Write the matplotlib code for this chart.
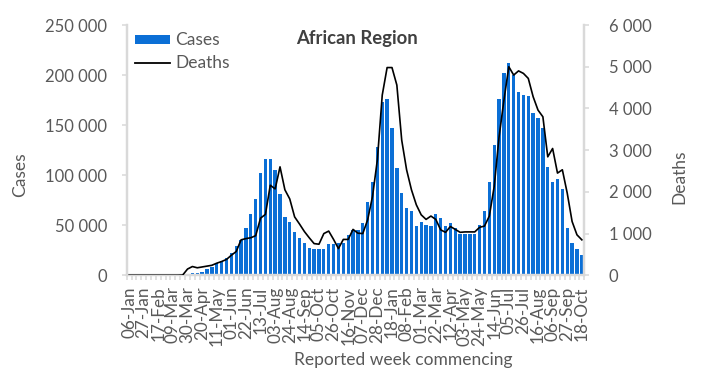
import matplotlib
matplotlib.use("Agg")
import matplotlib.pyplot as plt
from matplotlib.ticker import FuncFormatter
from matplotlib.patches import Patch
from matplotlib.lines import Line2D
import numpy as np

plt.rcParams["font.family"] = ["Lato", "DejaVu Sans"]

# -------------------- data --------------------
weeks = [
    "06-Jan", "13-Jan", "20-Jan", "27-Jan", "03-Feb", "10-Feb", "17-Feb", "24-Feb",
    "02-Mar", "09-Mar", "16-Mar", "23-Mar", "30-Mar", "06-Apr", "13-Apr", "20-Apr",
    "27-Apr", "04-May", "11-May", "18-May", "25-May", "01-Jun", "08-Jun", "15-Jun",
    "22-Jun", "29-Jun", "06-Jul", "13-Jul", "20-Jul", "27-Jul", "03-Aug", "10-Aug",
    "17-Aug", "24-Aug", "31-Aug", "07-Sep", "14-Sep", "21-Sep", "28-Sep", "05-Oct",
    "12-Oct", "19-Oct", "26-Oct", "02-Nov", "09-Nov", "16-Nov", "23-Nov", "30-Nov",
    "07-Dec", "14-Dec", "21-Dec", "28-Dec", "04-Jan", "11-Jan", "18-Jan", "25-Jan",
    "01-Feb", "08-Feb", "15-Feb", "22-Feb", "01-Mar", "08-Mar", "15-Mar", "22-Mar",
    "29-Mar", "05-Apr", "12-Apr", "19-Apr", "26-Apr", "03-May", "10-May", "17-May",
    "24-May", "31-May", "07-Jun", "14-Jun", "21-Jun", "28-Jun", "05-Jul", "12-Jul",
    "19-Jul", "26-Jul", "02-Aug", "09-Aug", "16-Aug", "23-Aug", "30-Aug", "06-Sep",
    "13-Sep", "20-Sep", "27-Sep", "04-Oct", "11-Oct", "18-Oct",
]

cases = [
    0, 0, 0, 0, 0, 0, 0, 0, 0, 0, 200, 600, 900,
    2700, 2700, 3700, 6000, 8700, 12000, 14000, 17000, 22000, 29000, 35000,
    47000, 61000, 76000, 102000, 116000, 116000, 105000, 81000, 58000, 53000,
    43000, 37000, 32000, 27000, 26000, 26000, 26000, 31000, 31000, 32000,
    32000, 40000, 45000, 45000, 52000, 73000, 93000, 128000, 173000, 176000,
    147000, 107000, 82000, 67000, 64000, 49000, 53000, 50000, 49000, 61000,
    57000, 49000, 52000, 47000, 41000, 41000, 41000, 41000, 50000, 64000,
    93000, 130000, 176000, 202000, 212000, 200000, 183000, 180000, 179000,
    162000, 157000, 147000, 108000, 93000, 96000, 86000, 47000, 32000, 26000,
    20000,
]

deaths = [
    0, 0, 0, 0, 0, 0, 0, 0, 0, 0, 0, 5, 150,
    210, 180, 200, 220, 240, 290, 330, 380, 480, 570, 850,
    880, 900, 950, 1370, 1460, 2160, 2070, 2600, 2050, 1830,
    1400, 1230, 1050, 900, 760, 745, 1000, 1060, 860, 640,
    860, 860, 1100, 1010, 1000, 1330, 1890, 2770, 4320, 4980,
    4980, 4560, 3240, 2530, 2050, 1690, 1450, 1340, 1420, 1340,
    1090, 1030, 1170, 1100, 1030, 1040, 1040, 1040, 1150, 1180,
    1420, 2130, 3320, 4200, 5000, 4800, 4900, 4840, 4720,
    4280, 3960, 3800, 2840, 3040, 2450, 2530, 1970, 1290, 970,
    850,
]

BAR_COLOR = "#0b6fd6"
TXT = "#595959"
AXIS = "#d9d9d9"


def space_thousands(x, pos):
    return f"{x:,.0f}".replace(",", " ")


# -------------------- plot --------------------
fig = plt.figure(figsize=(7.03, 3.86), dpi=100)
ax = fig.add_axes([0.1802, 0.2868, 0.6509, 0.6484])
ax2 = ax.twinx()

x = np.arange(len(weeks))
ax.bar(x, cases, width=0.68, color=BAR_COLOR, zorder=2)
ax2.plot(x, deaths, color="black", linewidth=1.2, zorder=3)

ax.set_xlim(-0.5, len(weeks) - 0.5)
ax.set_ylim(0, 250000)
ax2.set_ylim(0, 6000)
ax.set_yticks(np.arange(0, 250001, 50000))
ax2.set_yticks(np.arange(0, 6001, 1000))
ax.yaxis.set_major_formatter(FuncFormatter(space_thousands))
ax2.yaxis.set_major_formatter(FuncFormatter(space_thousands))

# labels every third week, tick marks between every category
ax.set_xticks(x[::3])
ax.set_xticklabels(weeks[::3], rotation=90, fontsize=12.3, color=TXT)
ax.set_xticks(np.arange(-0.5, len(weeks), 1), minor=True)
ax.tick_params(axis="x", which="major", length=0, pad=8)
ax.tick_params(axis="x", which="minor", length=3.6, width=1.1, color=AXIS)

ax.tick_params(axis="y", length=3.6, width=1.1, color=AXIS, labelcolor=TXT,
               labelsize=12, pad=10.4)
ax2.tick_params(axis="y", length=3.6, width=1.1, color=AXIS, labelcolor=TXT,
                labelsize=12, pad=14.2)

for a in (ax, ax2):
    a.spines["top"].set_visible(False)
    for side in ("left", "right", "bottom"):
        a.spines[side].set_color(AXIS)
        a.spines[side].set_linewidth(1.6)

fig.text(0.028, 0.547, "Cases", rotation=90, ha="center", va="center",
         fontsize=12.5, color=TXT)
fig.text(0.967, 0.541, "Deaths", rotation=90, ha="center", va="center",
         fontsize=12.5, color=TXT)
fig.text(0.573, 0.068, "Reported week commencing", ha="center", va="center",
         fontsize=12.5, color=TXT)
fig.text(0.508, 0.900, "African Region", ha="center", va="center",
         fontsize=13.3, fontweight="bold", color="#404040")

handles = [Patch(facecolor=BAR_COLOR, edgecolor="none"),
           Line2D([0], [0], color="black", linewidth=1.3)]
leg = fig.legend(handles, ["Cases", "Deaths"], loc="upper left",
                 bbox_to_anchor=(0.192, 0.916), bbox_transform=fig.transFigure,
                 frameon=False, fontsize=12.5, borderpad=0, borderaxespad=0,
                 handlelength=2.0, handleheight=0.45, handletextpad=0.3,
                 labelspacing=0.4)
for t in leg.get_texts():
    t.set_color(TXT)

fig.savefig("out.png", dpi=100)
